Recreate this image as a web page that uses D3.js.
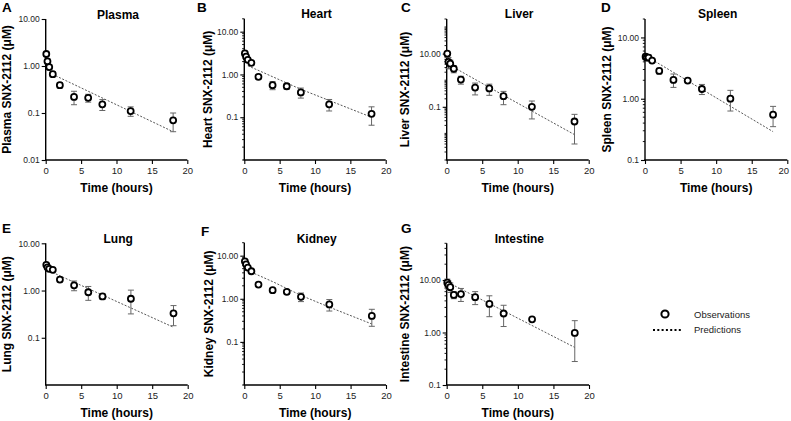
<!DOCTYPE html>
<html><head><meta charset="utf-8">
<script src="https://cdn.jsdelivr.net/npm/d3@7/dist/d3.min.js"></script>
<style>body{margin:0;background:#fff} text{font-family:Arial,"Liberation Sans",Helvetica,sans-serif}</style>
</head><body><svg id="c" width="791" height="421"></svg>
<script>
// ---- data ----
const times = [0.083, 0.25, 0.5, 1, 2, 4, 6, 8, 12, 18];
const xTicks = [0, 5, 10, 15, 20];

const plasmaObs = [1.8, 1.26, 0.95, 0.67, 0.39, 0.22, 0.21, 0.153, 0.11, 0.07];
const plasmaErr = [0.15, 0.15, 0.12, 0.08, 0.05, 0.07, 0.04, 0.04, 0.025, 0.03];
const plasmaPredT = [0.5, 18];
const plasmaPredV = [0.72, 0.04];

const heartObs = [3.1, 2.6, 2.2, 1.87, 0.88, 0.56, 0.53, 0.38, 0.2, 0.12];
const heartErr = [0.4, 0.3, 0.3, 0.2, 0.1, 0.12, 0.08, 0.1, 0.06, 0.055];
const heartPredT = [0.5, 8, 18];
const heartPredV = [1.6, 0.45, 0.1];

const liverObs = [10, 4.9, 4.2, 2.7, 1.06, 0.53, 0.49, 0.25, 0.1, 0.028];
const liverErr = [2, 2.2, 1.5, 0.8, 0.35, 0.25, 0.22, 0.13, 0.065, 0.024];
const liverPredT = [0.5, 8, 18];
const liverPredV = [3.6, 0.27, 0.009];

const spleenObs = [4.85, 4.7, 4.7, 4.2, 2.84, 2.03, 1.98, 1.44, 1.0, 0.55];
const spleenErr = [0.5, 0.5, 0.5, 0.3, 0.3, 0.5, 0.15, 0.27, 0.37, 0.2];
const spleenPredT = [0.5, 18];
const spleenPredV = [4.7, 0.29];

const lungObs = [3.5, 3.1, 2.88, 2.75, 1.71, 1.29, 0.92, 0.75, 0.67, 0.33];
const lungErr = [0.3, 0.3, 0.3, 0.2, 0.2, 0.3, 0.3, 0.1, 0.35, 0.15];
const lungPredT = [0.5, 18];
const lungPredV = [2.6, 0.167];

const kidneyObs = [7.4, 6.3, 5.3, 4.35, 2.14, 1.58, 1.45, 1.11, 0.74, 0.4];
const kidneyErr = [0.8, 0.8, 0.6, 0.4, 0.2, 0.15, 0.15, 0.25, 0.22, 0.17];
const kidneyPredT = [0.5, 4, 8, 12, 18];
const kidneyPredV = [4.5, 2.5, 1.2, 0.64, 0.26];

const intestineObs = [8.9, 8.05, 7.3, 5.2, 5.4, 4.7, 3.5, 2.3, 1.78, 0.98];
const intestineErr = [1.5, 1.5, 1.5, 0.8, 1.5, 1.3, 1.5, 1.0, 0.15, 0.7];
const intestinePredT = [0.25, 18];
const intestinePredV = [8.9, 0.52];

const legendLabels = ["Observations", "Predictions"];

// ---- layout ----
const panels = [
  {letter:"A", title:"Plasma", ylab:"Plasma SNX-2112 (\u03bcM)", obs:plasmaObs, err:plasmaErr, pt:plasmaPredT, pv:plasmaPredV,
   dom:[0.01,10], majors:[10,1,0.1,0.01], minor:false, L:45.7, R:187.3, T:19, B:160, lx:-34.7, let:[2,12], ty:18.5},
  {letter:"B", title:"Heart", ylab:"Heart SNX-2112 (\u03bcM)", obs:heartObs, err:heartErr, pt:heartPredT, pv:heartPredV,
   dom:[0.01,20], majors:[10,1,0.1], minor:true, L:244.3, R:385.7, T:18.8, B:160, lx:-32.5, let:[197,12], ty:18},
  {letter:"C", title:"Liver", ylab:"Liver SNX-2112 (\u03bcM)", obs:liverObs, err:liverErr, pt:liverPredT, pv:liverPredV,
   dom:[0.001,200], majors:[10,0.1], minor:true, L:446.7, R:588.7, T:19, B:160, lx:-37.5, let:[401,12], ty:18},
  {letter:"D", title:"Spleen", ylab:"Spleen SNX-2112 (\u03bcM)", obs:spleenObs, err:spleenErr, pt:spleenPredT, pv:spleenPredV,
   dom:[0.1,20], majors:[10,1,0.1], minor:true, L:645, R:787.3, T:19, B:160, lx:-34, let:[601,12], ty:18},
  {letter:"E", title:"Lung", ylab:"Lung SNX-2112 (\u03bcM)", obs:lungObs, err:lungErr, pt:lungPredT, pv:lungPredV,
   dom:[0.01,10], majors:[10,1,0.1], minor:false, L:45.7, R:187.7, T:243.3, B:385, lx:-35, let:[2,233], ty:243},
  {letter:"F", title:"Kidney", ylab:"Kidney SNX-2112 (\u03bcM)", obs:kidneyObs, err:kidneyErr, pt:kidneyPredT, pv:kidneyPredV,
   dom:[0.01,20], majors:[10,1,0.1], minor:true, L:244.3, R:386, T:242.7, B:385, lx:-31.5, let:[201,236], ty:242.5},
  {letter:"G", title:"Intestine", ylab:"Intestine SNX-2112 (\u03bcM)", obs:intestineObs, err:intestineErr, pt:intestinePredT, pv:intestinePredV,
   dom:[0.1,50], majors:[10,1,0.1], minor:true, L:446.7, R:589, T:243.3, B:385, lx:-38, let:[401,233], ty:242.5}
];

const svg = d3.select("#c");
const W = 791;
const fmt = v => v >= 1 ? v.toFixed(2) : String(v);
const errColor = "#666";

panels.forEach(p => {
  const x = d3.scaleLinear().domain([0, 20]).range([p.L, p.R]);
  const y = d3.scaleLog().domain(p.dom).range([p.B, p.T]);
  const g = svg.append("g");

  // letter, title
  g.append("text").attr("x", p.let[0]).attr("y", p.let[1]).attr("font-size", 13.5).attr("font-weight", "bold").text(p.letter);
  g.append("text").attr("x", (p.L + p.R) / 2 + 1.5).attr("y", p.ty).attr("text-anchor", "middle")
    .attr("font-size", 12).attr("font-weight", "bold").text(p.title);

  // y axis
  const yAx = d3.axisLeft(y).tickValues(p.majors).tickFormat(fmt).tickSize(4).tickPadding(2);
  const ya = g.append("g").attr("transform", `translate(${p.L},0)`).call(yAx);
  ya.select(".domain").attr("d", `M0,${p.T}V${p.B}`).attr("stroke-width", 1.4);
  ya.selectAll(".tick line").attr("stroke-width", 1.1);
  ya.selectAll(".tick text").attr("font-size", 8.5).attr("fill", "#222").style("font-family", "Arial, 'Liberation Sans', sans-serif");
  if (p.minor) {
    const lo = Math.floor(Math.log10(p.dom[0])), hi = Math.ceil(Math.log10(p.dom[1]));
    const mins = [];
    for (let d = lo; d <= hi; d++) for (let k = 1; k <= 9; k++) {
      const v = +(k * Math.pow(10, d)).toPrecision(6);
      if (v >= p.dom[0] && v <= p.dom[1] && !p.majors.some(m => Math.abs(m - v) / v < 1e-6)) mins.push(v);
    }
    g.append("g").selectAll("line").data(mins).join("line")
      .attr("x1", p.L).attr("x2", p.L - 2.2).attr("y1", d => y(d)).attr("y2", d => y(d))
      .attr("stroke", "#000").attr("stroke-width", 0.9);
  }
  g.append("text").attr("transform", `translate(${p.L + p.lx},${(p.T + p.B) / 2}) rotate(-90)`)
    .attr("text-anchor", "middle").attr("font-size", 12).attr("font-weight", "bold").text(p.ylab);

  // x axis
  const xAx = d3.axisBottom(x).tickValues(xTicks).tickSize(4).tickPadding(3);
  const xa = g.append("g").attr("transform", `translate(0,${p.B})`).call(xAx);
  xa.select(".domain").attr("d", `M${p.L - 0.7},0H${p.R}`).attr("stroke-width", 1.4);
  xa.selectAll(".tick line").attr("stroke-width", 1.1);
  xa.selectAll(".tick text").attr("font-size", 9.5).attr("fill", "#222").style("font-family", "Arial, 'Liberation Sans', sans-serif");
  // keep an edge label inside the page
  xa.selectAll(".tick text").filter(d => x(d) + 6 > W).attr("dx", -4);
  g.append("text").attr("x", (p.L + p.R) / 2).attr("y", p.B + 32).attr("text-anchor", "middle")
    .attr("font-size", 12).attr("font-weight", "bold").text("Time (hours)");

  // prediction line
  const pred = p.pt.map((t, i) => [t, p.pv[i]]);
  g.append("path").datum(pred)
    .attr("d", d3.line().x(d => x(d[0])).y(d => y(d[1])))
    .attr("fill", "none").attr("stroke", "#444").attr("stroke-width", 0.9).attr("stroke-dasharray", "2,1.6");

  // error bars
  const obs = times.map((t, i) => ({t, v: p.obs[i], e: p.err[i]}));
  const eb = g.append("g").attr("stroke", errColor).attr("stroke-width", 1);
  obs.forEach(d => {
    const top = y(d.v + d.e);
    const bot = y(Math.max(d.v - d.e, p.dom[0]));
    const cx = x(d.t);
    eb.append("line").attr("x1", cx).attr("x2", cx).attr("y1", top).attr("y2", bot);
    eb.append("line").attr("x1", cx - 3).attr("x2", cx + 3).attr("y1", top).attr("y2", top);
    eb.append("line").attr("x1", cx - 3).attr("x2", cx + 3).attr("y1", bot).attr("y2", bot);
  });

  // observation circles
  g.append("g").selectAll("circle").data(obs).join("circle")
    .attr("cx", d => x(d.t)).attr("cy", d => y(d.v)).attr("r", 3)
    .attr("fill", "#fff").attr("stroke", "#000").attr("stroke-width", 1.8);
});

// legend
const lg = svg.append("g");
lg.append("circle").attr("cx", 665).attr("cy", 314).attr("r", 3.6).attr("fill", "#fff").attr("stroke", "#000").attr("stroke-width", 2);
lg.append("line").attr("x1", 653).attr("x2", 683).attr("y1", 330).attr("y2", 330)
  .attr("stroke", "#000").attr("stroke-width", 1.8).attr("stroke-dasharray", "2,2.3");
lg.selectAll("text").data(legendLabels).join("text")
  .attr("x", 694).attr("y", (d, i) => 317.5 + i * 15.5).attr("font-size", 9.5).attr("fill", "#222").text(d => d);
</script></body></html>
